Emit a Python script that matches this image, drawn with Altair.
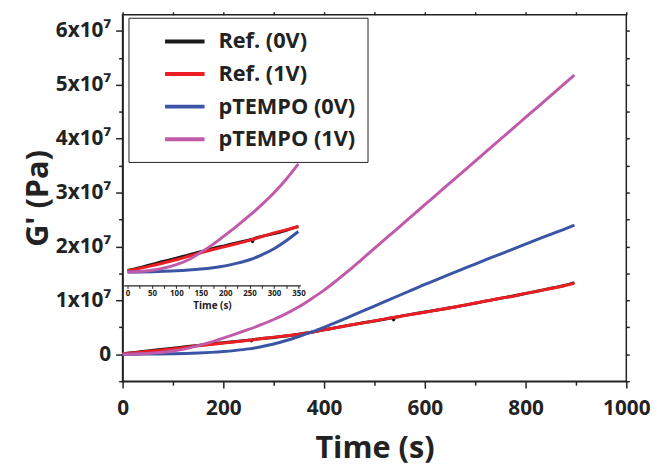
import altair as alt
import pandas as pd

# ---------------- data (values of G', in units of 1e7 Pa) ----------------
UNIT = 1e7
series_names = ["Ref. (0V)", "Ref. (1V)", "pTEMPO (0V)", "pTEMPO (1V)"]
series_colors = ["#1a1a1a", "#ee1d23", "#3a55a5", "#c05aaa"]

time_s = [0, 25, 50, 75, 100, 125, 150, 175, 200, 225, 250, 275, 300, 325, 350, 375,
          400, 425, 450, 475, 500, 525, 550, 575, 600, 625, 650, 675, 700, 725, 750,
          775, 800, 825, 850, 875, 897]

ref_0v = [0.012, 0.035, 0.062, 0.088, 0.112, 0.140, 0.165, 0.192, 0.215, 0.238, 0.262,
          0.290, 0.312, 0.340, 0.372, 0.408, 0.452, 0.497, 0.538, 0.580, 0.618, 0.660,
          0.702, 0.745, 0.783, 0.820, 0.862, 0.903, 0.948, 0.995, 1.037, 1.082, 1.128,
          1.175, 1.225, 1.272, 1.330]
# a few short glitches of the black trace
ref_0v_glitch_time = [254, 256, 258, 536, 538, 540]
ref_0v_glitch = [0.266, 0.246, 0.269, 0.678, 0.635, 0.682]

ref_1v = [0.010, 0.030, 0.052, 0.076, 0.100, 0.128, 0.157, 0.183, 0.207, 0.232, 0.258,
          0.288, 0.318, 0.343, 0.370, 0.410, 0.455, 0.495, 0.540, 0.578, 0.620, 0.662,
          0.700, 0.742, 0.780, 0.822, 0.860, 0.905, 0.950, 0.993, 1.040, 1.075, 1.130,
          1.172, 1.220, 1.268, 1.320]

ptempo_0v = [0.000, 0.001, 0.003, 0.006, 0.010, 0.016, 0.024, 0.035, 0.050, 0.072, 0.100,
             0.140, 0.190, 0.255, 0.330, 0.410, 0.500, 0.595, 0.695, 0.795, 0.895, 0.995,
             1.095, 1.195, 1.295, 1.390, 1.485, 1.580, 1.675, 1.768, 1.860, 1.952, 2.044,
             2.135, 2.225, 2.315, 2.395]

ptempo_1v = [0.000, 0.004, 0.015, 0.033, 0.060, 0.100, 0.160, 0.225, 0.300, 0.378, 0.460,
             0.548, 0.645, 0.755, 0.880, 1.030, 1.190, 1.370, 1.560, 1.762, 1.965, 2.167,
             2.370, 2.572, 2.775, 2.977, 3.180, 3.382, 3.585, 3.787, 3.990, 4.192, 4.395,
             4.597, 4.800, 5.002, 5.180]

# ---------------- table ----------------
rows = []
black_pts = sorted(list(zip(time_s, ref_0v)) + list(zip(ref_0v_glitch_time, ref_0v_glitch)))
for t, v in black_pts:
    rows.append({"time": t, "g": v * UNIT, "series": series_names[0]})
for name, vals in zip(series_names[1:], [ref_1v, ptempo_0v, ptempo_1v]):
    for t, v in zip(time_s, vals):
        rows.append({"time": t, "g": v * UNIT, "series": name})
df = pd.DataFrame(rows)
df_inset = df[df["time"] <= 350]

FONT = "Open Sans"
INK = "#222222"

color = alt.Color(
    "series:N",
    scale=alt.Scale(domain=series_names, range=series_colors),
    legend=alt.Legend(
        title=None, orient="none", legendX=6, legendY=3,
        symbolType="M-2,0H2", symbolSize=400, symbolStrokeWidth=4,
        labelFont=FONT, labelFontWeight="bold", labelFontSize=22, labelColor=INK,
        labelExpr="datum.label + '\u00a0\u00a0'",
        labelOffset=22, rowPadding=10, padding=12, symbolOffset=33,
        strokeColor=INK, fillColor="white",
    ),
)

x_main = alt.Scale(domain=[0, 1000], nice=False, zero=False)
y_main = alt.Scale(domain=[-0.5 * UNIT, 6.3 * UNIT], nice=False, zero=False)

main = alt.Chart(df).mark_line(strokeWidth=3, interpolate="monotone").encode(
    x=alt.X("time:Q", scale=x_main, axis=alt.Axis(
        orient="bottom", title="Time (s)", values=list(range(0, 1001, 100)),
        labelExpr="datum.value % 200 === 0 ? format(datum.value, 'd') : ''",
        tickSize={"condition": {"test": "datum.value % 200 === 0", "value": 7}, "value": 4},
        labelFontSize=21, titleFontSize=31, labelPadding=10, titlePadding=15,
        labelFlush=False, grid=False, tickWidth=1.5, domainWidth=1.5)),
    y=alt.Y("g:Q", scale=y_main, axis=alt.Axis(
        orient="left", title="G' (Pa)",
        values=[v * 0.5 * UNIT for v in range(-1, 13)],
        labelExpr="datum.value === 0 ? '0' : (datum.value % 10000000 === 0 ? format(datum.value / 10000000, 'd') + 'x10⁷' : '')",
        tickSize={"condition": {"test": "datum.value % 10000000 === 0", "value": 7}, "value": 4},
        labelFontSize=21, titleFontSize=31, labelPadding=5, titlePadding=1,
        labelFlush=False, grid=False, tickWidth=1.5, domainWidth=1.5)),
    color=color,
)

mirror = alt.Chart(df).mark_line(opacity=0).encode(
    x=alt.X("time:Q", scale=x_main, axis=alt.Axis(
        orient="top", title=None, labels=False, values=list(range(0, 1001, 100)),
        tickSize=3, domain=False, grid=False, tickWidth=1.5)),
    y=alt.Y("g:Q", scale=y_main, axis=alt.Axis(
        orient="right", title=None, labels=False,
        values=[v * 0.5 * UNIT for v in range(-1, 13)],
        tickSize=3, domain=False, grid=False, tickWidth=1.5)),
    detail="series:N",
)

base = alt.layer(main, mirror).resolve_axis(x="independent", y="independent")

inset = alt.Chart(df_inset).mark_line(strokeWidth=3, interpolate="monotone").encode(
    x=alt.X("time:Q", scale=alt.Scale(domain=[-8, 354], range=[1.1, 180], nice=False, zero=False),
            axis=alt.Axis(orient="bottom", offset=-97, title="Time (s)",
                          values=list(range(0, 351, 25)),
                          labelExpr="datum.value % 50 === 0 ? datum.label : ''",
                          tickSize=3, labelFontSize=8, titleFontSize=10, labelPadding=1,
                          titlePadding=3, labelFlush=False, grid=False, tickWidth=1,
                          domainWidth=1.2, labelFontWeight="bold", titleFontWeight="bold")),
    y=alt.Y("g:Q", scale=alt.Scale(domain=[-0.108 * UNIT, 1.0 * UNIT], range=[273.9, 136],
                                   nice=False, zero=False), axis=None),
    color=color,
)

chart = alt.layer(base, inset).resolve_scale(x="independent", y="independent").properties(
    width=510, height=371,
    autosize=alt.AutoSizeParams(type="none"),
    padding={"left": 116, "top": 4, "right": 26, "bottom": 84},
).configure_view(stroke=INK, strokeWidth=1.5).configure_axis(
    labelFont=FONT, titleFont=FONT, labelFontWeight="bold", titleFontWeight="bold",
    labelColor=INK, titleColor=INK, domainColor=INK, tickColor=INK,
)

chart.save("out.html", embed_options={"renderer": "svg", "actions": False})
